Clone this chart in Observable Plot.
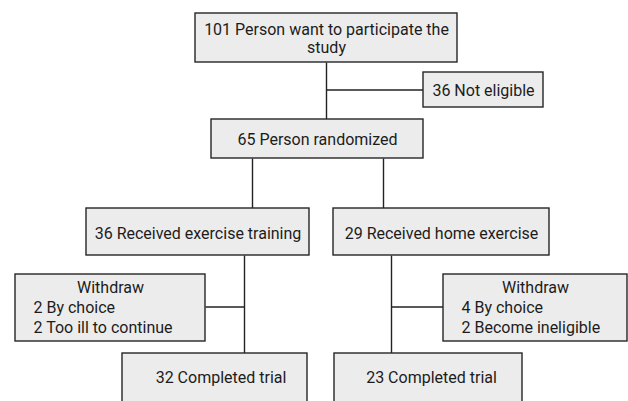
<!DOCTYPE html>
<html>
<head>
<meta charset="utf-8">
<script src="https://cdn.jsdelivr.net/npm/d3@7"></script>
<script src="https://cdn.jsdelivr.net/npm/@observablehq/plot@0.6"></script>
<style>
  html, body { margin: 0; padding: 0; background: #ffffff; }
  #chart svg { display: block; }
</style>
</head>
<body>
<div id="chart"></div>
<script>
// ---- Data: flow stages (counts and labels) ----
const stageIds    = ["screened", "excluded", "randomized", "armA", "armB", "doneA", "doneB"];
const stageCounts = [101, 36, 65, 36, 29, 32, 23];
const stageLabels = [
  "Person want to participate the\nstudy",
  "Not eligible",
  "Person randomized",
  "Received exercise training",
  "Received home exercise",
  "Completed trial",
  "Completed trial"
];

// ---- Data: withdrawals per arm ----
const withdrawHeading = "Withdraw";
const withdrawArmA    = [2, 2];
const withdrawReasonA = ["By choice", "Too ill to continue"];
const withdrawArmB    = [4, 2];
const withdrawReasonB = ["By choice", "Become ineligible"];

// ---- Diagram layout (diagram units, mapped through Plot's x/y scales) ----
const layoutIds = ["screened", "excluded", "randomized", "armA", "armB", "doneA", "doneB", "withdrawA", "withdrawB"];
const layoutX1  = [195, 423, 211,  86, 333, 122, 334,  15, 443];
const layoutX2  = [457, 543, 423, 309, 549, 307, 522, 205, 627];
const layoutY1  = [ 13,  72, 119, 208, 208, 353, 353, 274, 274];
const layoutY2  = [ 62, 107, 158, 255, 255, 425, 425, 341, 341];
const layoutDx  = [  0,   0,   0,   0,   0,   6,   3,   0,   0];
const layoutDy  = [  0,   0,   0,   1,   1, -12, -12,   0,   0];
const splitX    = [252, 383];  // where randomization branches leave
const trunkX    = [244, 391];  // arm trunks down to completion
const reasonIndent = 18;

// ---- Build tables ----
const box = {};
layoutIds.forEach((id, i) => {
  box[id] = {id, x1: layoutX1[i], x2: layoutX2[i], y1: layoutY1[i], y2: layoutY2[i], dx: layoutDx[i], dy: layoutDy[i]};
});
const cx = b => (b.x1 + b.x2) / 2;
const cy = b => (b.y1 + b.y2) / 2;

const boxes = layoutIds.map(id => box[id]);

const stageText = stageIds.map((id, i) => ({
  x: cx(box[id]) + box[id].dx,
  y: cy(box[id]) + box[id].dy,
  text: `${stageCounts[i]} ${stageLabels[i]}`
}));

const headings = ["withdrawA", "withdrawB"].map(id => ({x: cx(box[id]), y: box[id].y1 + 13, text: withdrawHeading}));
const reasons = [];
[["withdrawA", withdrawArmA, withdrawReasonA], ["withdrawB", withdrawArmB, withdrawReasonB]].forEach(([id, ns, rs]) => {
  ns.forEach((n, j) => reasons.push({x: box[id].x1 + reasonIndent, y: box[id].y1 + 33 + j * 20, text: `${n} ${rs[j]}`}));
});

const S = box.screened, E = box.excluded, R = box.randomized;
const links = [
  {x1: cx(S), y1: S.y2, x2: cx(S), y2: R.y1},
  {x1: cx(S), y1: cy(E), x2: E.x1, y2: cy(E)},
  {x1: splitX[0], y1: R.y2, x2: splitX[0], y2: box.armA.y1},
  {x1: splitX[1], y1: R.y2, x2: splitX[1], y2: box.armB.y1},
  {x1: trunkX[0], y1: box.armA.y2, x2: trunkX[0], y2: box.doneA.y1},
  {x1: trunkX[1], y1: box.armB.y2, x2: trunkX[1], y2: box.doneB.y1},
  {x1: box.withdrawA.x2, y1: cy(box.withdrawA) - 1, x2: trunkX[0], y2: cy(box.withdrawA) - 1},
  {x1: trunkX[1], y1: cy(box.withdrawB) - 1, x2: box.withdrawB.x1, y2: cy(box.withdrawB) - 1}
];

const W = 628, H = 401;
const ink = "#1c1c1c";
const font = "Roboto, 'Noto Sans', sans-serif";

const chart = Plot.plot({
  width: W,
  height: H,
  margin: 0,
  x: {domain: [0, W], range: [0, W], axis: null},
  y: {domain: [0, H], range: [0, H], axis: null},
  style: {background: "#ffffff", fontFamily: font},
  marks: [
    Plot.link(links, {x1: "x1", y1: "y1", x2: "x2", y2: "y2", stroke: "#222", strokeWidth: 1.4}),
    Plot.rect(boxes, {x1: "x1", x2: "x2", y1: "y1", y2: "y2", fill: "#ececec", stroke: "#262626", strokeWidth: 1.4}),
    Plot.text(stageText, {x: "x", y: "y", text: "text", fontSize: 16, fill: ink, lineHeight: 1.12, fontFamily: font}),
    Plot.text(headings, {x: "x", y: "y", text: "text", fontSize: 16, fill: ink, fontFamily: font}),
    Plot.text(reasons, {x: "x", y: "y", text: "text", fontSize: 16, fill: ink, textAnchor: "start", fontFamily: font})
  ]
});

document.getElementById("chart").appendChild(chart);
</script>
</body>
</html>
